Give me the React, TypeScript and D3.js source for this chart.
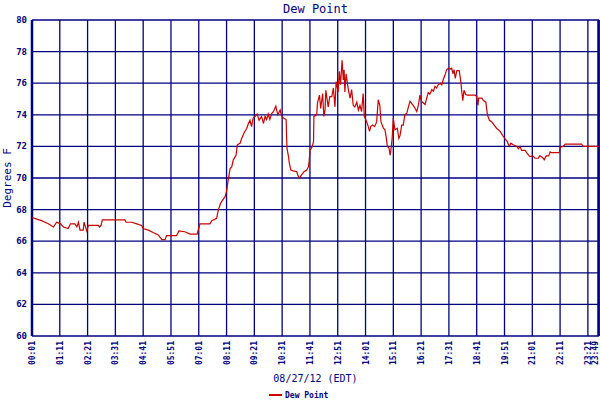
import * as d3 from "d3";

// x-axis tick labels (time of day, 08/27/12 EDT)
const timeTicks = [
  "00:01", "01:11", "02:21", "03:31", "04:41", "05:51", "07:01", "08:11",
  "09:21", "10:31", "11:41", "12:51", "14:01", "15:11", "16:21", "17:31",
  "18:41", "19:51", "21:01", "22:11", "23:21", "23:49",
];

const yTicks = [60, 62, 64, 66, 68, 70, 72, 74, 76, 78, 80];

// minutes after midnight
const minutes = [
  1, 13, 25, 34, 42, 55, 63, 73, 80, 92, 98, 109, 114, 118, 122, 130, 132, 139,
  143, 168, 171, 175, 178, 235, 238, 252, 265, 277, 281, 294, 306, 319, 328,
  336, 340, 365, 371, 386, 399, 417, 420, 424, 449, 454, 466, 470, 476, 481,
  487, 491, 495, 500, 504, 508, 515, 518, 525, 529, 535, 542, 546, 550, 554,
  558, 563, 568, 573, 579, 584, 588, 592, 596, 600, 605, 609, 615, 620, 626,
  630, 634, 641, 643, 647, 649, 653, 659, 668, 670, 674, 680, 686, 693, 697,
  699, 701, 707, 710, 711, 718, 720, 725, 728, 733, 736, 739, 741, 747, 751,
  756, 760, 764, 767, 772, 775, 778, 782, 785, 787, 789, 792, 798, 802, 806,
  810, 814, 819, 823, 827, 831, 835, 838, 844, 848, 851, 854, 859, 864, 869,
  873, 877, 880, 886, 890, 893, 896, 900, 903, 905, 908, 911, 915, 921, 925,
  928, 932, 936, 940, 945, 949, 953, 961, 966, 970, 974, 978, 982, 987, 991,
  995, 999, 1003, 1008, 1012, 1016, 1020, 1024, 1029, 1033, 1037, 1041, 1045,
  1050, 1054, 1058, 1061, 1064, 1067, 1071, 1077, 1081, 1083, 1086, 1089,
  1093, 1097, 1117, 1121, 1124, 1126, 1134, 1138, 1144, 1148, 1153, 1159,
  1165, 1171, 1180, 1186, 1192, 1198, 1203, 1207, 1213, 1222, 1226, 1230,
  1234, 1243, 1248, 1255, 1262, 1268, 1276, 1280, 1287, 1291, 1296, 1302,
  1306, 1310, 1329, 1331, 1339, 1344, 1385, 1389, 1429,
];

// dew point, degrees F
const dewPoint = [
  67.5, 67.4, 67.3, 67.2, 67.1, 66.9, 67.2, 67.1, 66.9, 66.8, 67.1, 67.1, 66.9,
  67.2, 66.7, 66.7, 67.2, 66.65, 67.0, 67.0, 66.9, 67.0, 67.35, 67.35, 67.2,
  67.2, 67.1, 67.0, 66.8, 66.7, 66.55, 66.4, 66.1, 66.1, 66.35, 66.35, 66.65,
  66.6, 66.45, 66.45, 66.75, 67.1, 67.1, 67.3, 67.45, 67.95, 68.4, 68.6, 68.8,
  69.15, 69.85, 70.6, 70.7, 71.15, 71.45, 72.1, 72.2, 72.5, 72.85, 73.15, 73.45,
  73.65, 73.25, 73.8, 73.9, 74.05, 73.65, 73.9, 73.45, 73.9, 73.7, 74.05, 73.7,
  74.1, 74.2, 74.55, 74.0, 74.3, 73.9, 73.8, 73.7, 71.9, 71.35, 70.95, 70.5,
  70.45, 70.4, 70.2, 70.0, 70.2, 70.4, 70.5, 70.7, 71.05, 71.75, 72.0, 72.3,
  73.9, 74.0, 74.75, 75.25, 74.4, 75.35, 73.9, 74.3, 75.55, 74.5, 75.15, 75.15,
  75.7, 74.5, 76.1, 75.45, 76.75, 75.9, 77.45, 76.2, 76.85, 75.45, 76.6, 75.55,
  75.05, 75.6, 74.6, 74.5, 74.8, 74.3, 74.6, 74.2, 75.35, 73.9, 73.55, 73.25,
  72.95, 73.25, 73.35, 73.25, 73.55, 74.95, 74.6, 73.55, 73.15, 73.05, 72.6,
  72.0, 71.9, 71.45, 71.8, 72.5, 73.8, 73.05, 73.15, 72.5, 72.7, 73.35, 73.35,
  74.0, 74.1, 74.5, 74.85, 74.6, 74.4, 74.2, 74.6, 75.25, 74.85, 74.75, 74.65,
  75.05, 75.4, 75.3, 75.6, 75.5, 75.8, 75.7, 75.9, 76.0, 75.9, 76.25, 76.5,
  76.85, 76.95, 76.9, 76.95, 76.6, 76.85, 76.3, 76.8, 76.8, 76.1, 75.55, 74.9,
  75.55, 75.3, 75.25, 75.25, 75.15, 74.6, 75.05, 75.05, 74.9, 74.8, 74.0, 73.65,
  73.55, 73.35, 73.15, 72.95, 72.7, 72.5, 72.3, 72.0, 72.2, 72.1, 72.0, 71.85,
  72.0, 71.75, 71.75, 71.55, 71.35, 71.4, 71.25, 71.25, 71.4, 71.3, 71.15, 71.4,
  71.4, 71.65, 71.6, 71.6, 71.95, 72.0, 72.15, 72.15, 72.0, 72.0,
];

const W = 600;
const H = 400;
const margin = { top: 20, right: 1, bottom: 64, left: 32 };
const navy = "#000080";
const red = "#cc0000";
const mono = "'DejaVu Sans Mono', monospace";

const toMin = (s: string) => {
  const [h, m] = s.split(":").map(Number);
  return h * 60 + m;
};

export default function App() {
  const x = d3
    .scaleLinear()
    .domain([toMin(timeTicks[0]), toMin(timeTicks[timeTicks.length - 1])])
    .range([margin.left, W - margin.right]);
  const y = d3
    .scaleLinear()
    .domain([60, 80])
    .range([H - margin.bottom, margin.top]);

  const pts = minutes.map((m, i) => [m, dewPoint[i]] as [number, number]);
  const line = d3
    .line<[number, number]>()
    .x((d) => x(d[0]))
    .y((d) => y(d[1]));

  const plotBottom = H - margin.bottom;
  const midX = (margin.left + W - margin.right) / 2;

  return (
    <div style={{ position: "fixed", left: 0, top: 0, background: "#fff" }}>
      <svg width={W} height={H} style={{ display: "block" }}>
        <rect width={W} height={H} fill="#fff" />
        <text
          x={midX}
          y={13}
          textAnchor="middle"
          fill={navy}
          fontFamily={mono}
          fontSize={12}
        >
          Dew Point
        </text>

        {/* grid */}
        {yTicks.map((t) => (
          <line
            key={t}
            x1={margin.left}
            x2={W - margin.right}
            y1={y(t)}
            y2={y(t)}
            stroke={navy}
            strokeWidth={1.3}
          />
        ))}
        {timeTicks.map((t) => (
          <line
            key={t}
            x1={x(toMin(t))}
            x2={x(toMin(t))}
            y1={margin.top}
            y2={plotBottom}
            stroke={navy}
            strokeWidth={1.3}
          />
        ))}
        <line
          x1={margin.left}
          x2={margin.left}
          y1={margin.top}
          y2={plotBottom}
          stroke={navy}
          strokeWidth={2.5}
        />
        <line
          x1={W - 1.5}
          x2={W - 1.5}
          y1={margin.top}
          y2={plotBottom}
          stroke={navy}
          strokeWidth={2.5}
        />

        {/* y tick labels */}
        {yTicks.map((t) => (
          <text
            key={t}
            x={27}
            y={y(t) + 3}
            textAnchor="end"
            fill={navy}
            fontFamily={mono}
            fontSize={9}
            fontWeight="bold"
          >
            {t}
          </text>
        ))}
        <text
          transform={`translate(11,${(margin.top + plotBottom) / 2}) rotate(-90)`}
          textAnchor="middle"
          fill={navy}
          fontFamily={mono}
          fontSize={11}
        >
          Degrees F
        </text>

        {/* x tick labels */}
        {timeTicks.map((t) => (
          <text
            key={t}
            transform={`translate(${Math.min(x(toMin(t)) + 3, W - 2)},${plotBottom + 5}) rotate(-90)`}
            textAnchor="end"
            fill={navy}
            fontFamily={mono}
            fontSize={8}
            fontWeight="bold"
          >
            {t}
          </text>
        ))}
        <text
          x={midX}
          y={382}
          textAnchor="middle"
          fill={navy}
          fontFamily={mono}
          fontSize={10}
        >
          08/27/12 (EDT)
        </text>

        {/* data */}
        <path d={line(pts) ?? ""} fill="none" stroke={red} strokeWidth={1.2} />

        {/* legend */}
        <line x1={269} x2={282} y1={395} y2={395} stroke={red} strokeWidth={2} />
        <text
          x={285}
          y={398}
          fill={navy}
          fontFamily={mono}
          fontSize={8}
          fontWeight="bold"
        >
          Dew Point
        </text>
      </svg>
    </div>
  );
}
